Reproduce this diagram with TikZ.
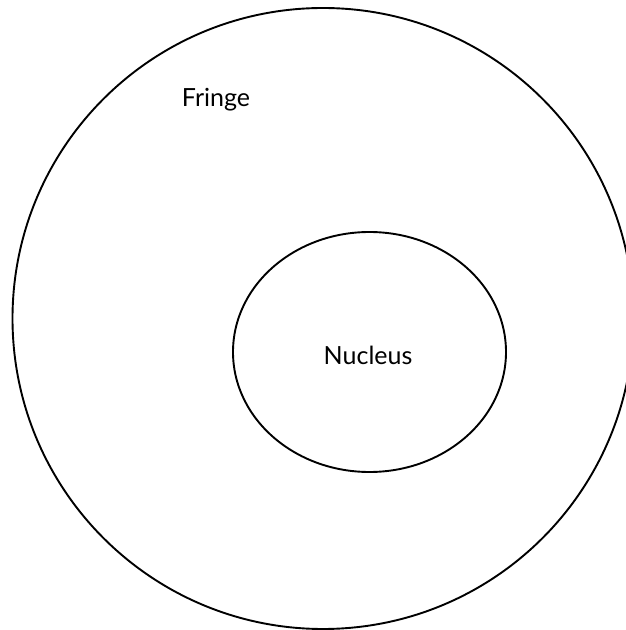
\documentclass[tikz,border=0pt]{standalone}
\usepackage{fontspec}
\setmainfont{Lato}
\usetikzlibrary{positioning}
\tikzset{ring/.style={draw,line width=1.9pt}}
\tikzset{lbl/.style={inner sep=0pt,font=\fontsize{25}{30}\selectfont}}

\begin{document}
\begin{tikzpicture}[x=1pt,y=1pt]
	\useasboundingbox (0,0) rectangle (626,630);
	\clip (0,0) rectangle (626,630);
		\coordinate (fringeC) at (323,311.5);
		\coordinate (nucC) at (369.5,278);
	\draw[ring] (fringeC) circle (310.5);
	\draw[ring] (nucC) ellipse (136.5 and 120);
		\node[lbl] (fringe) at (216,530) {Fringe};
		\node[lbl] (nucleus) at (368,275) {Nucleus};
	\end{tikzpicture}
\end{document}
